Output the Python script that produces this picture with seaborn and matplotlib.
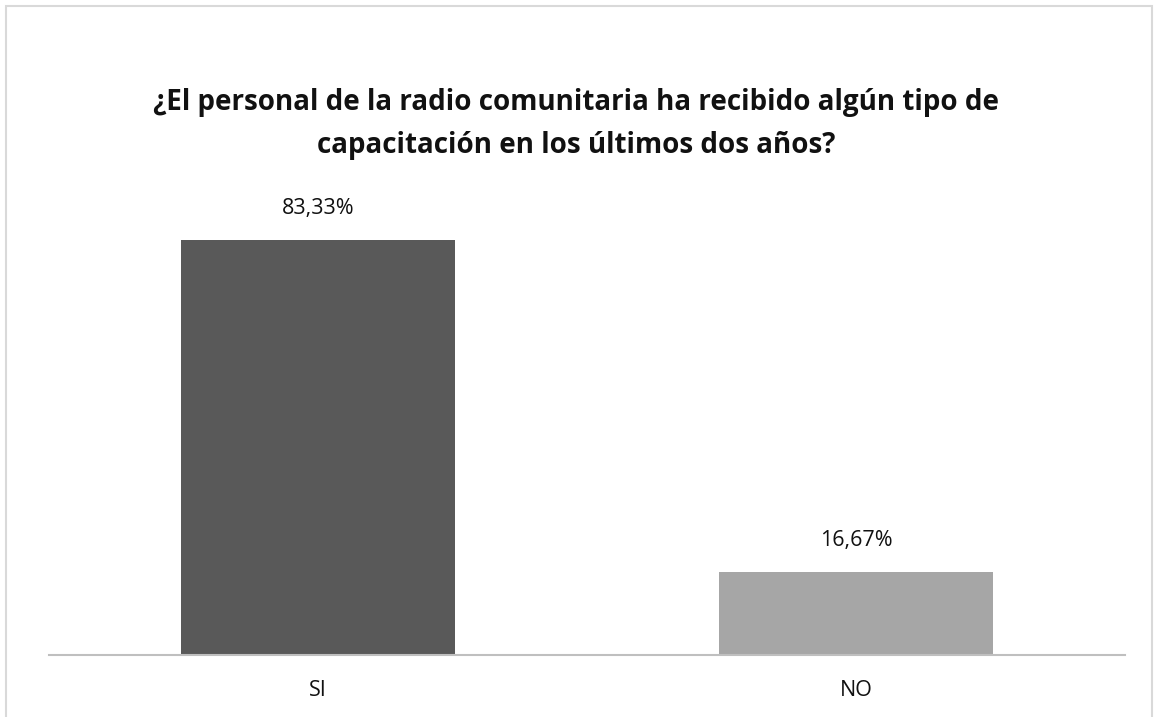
import pandas as pd
import matplotlib
matplotlib.use("Agg")
import matplotlib.pyplot as plt
import seaborn as sns
from matplotlib.patches import Rectangle

categories = ["SI", "NO"]
values = [83.33, 16.67]
value_labels = ["83,33%", "16,67%"]
bar_colors = ["#595959", "#a6a6a6"]
title = ("¿El personal de la radio comunitaria ha recibido algún tipo de\n"
         "capacitación en los últimos dos años?")

sns.set_theme(style="white")
plt.rcParams['font.family'] = ['Open Sans', 'DejaVu Sans']

df = pd.DataFrame({"respuesta": categories, "valor": values})

fig = plt.figure(figsize=(11.55, 7.17), dpi=100)
ax = fig.add_axes([49 / 1155, 62 / 717, 1076 / 1155, 448 / 717])

sns.barplot(data=df, x="respuesta", y="valor", hue="respuesta",
            palette=bar_colors, width=0.51, legend=False, ax=ax,
            saturation=1, linewidth=0)

for i, (v, lab) in enumerate(zip(values, value_labels)):
    ax.annotate(lab, (i, v), xytext=(0, 15), textcoords="offset points",
                ha="center", va="bottom", fontsize=15.5, color="#111111")

ax.set_xlim(-0.5, 1.5)
ax.set_ylim(0, 90)
ax.set_xlabel("")
ax.set_ylabel("")
ax.set_yticks([])
ax.tick_params(axis="x", length=0, labelsize=15.5, pad=18, colors="#111111")
for side in ["top", "left", "right"]:
    ax.spines[side].set_visible(False)
ax.spines["bottom"].set_color("#bfbfbf")
ax.spines["bottom"].set_linewidth(1.5)

fig.text(576 / 1155, 1 - 124 / 717, title, ha="center", va="center",
         fontsize=20, fontweight="bold", linespacing=1.6, color="#111111")

# outer chart frame (bottom edge cut off in the original)
fig.patches.append(Rectangle((6 / 1155, -0.05), 1146 / 1155, 1.05 - 6 / 717,
                             transform=fig.transFigure, fill=False,
                             edgecolor="#d9d9d9", linewidth=1.5))

fig.savefig("out.png", dpi=100, facecolor="white")
